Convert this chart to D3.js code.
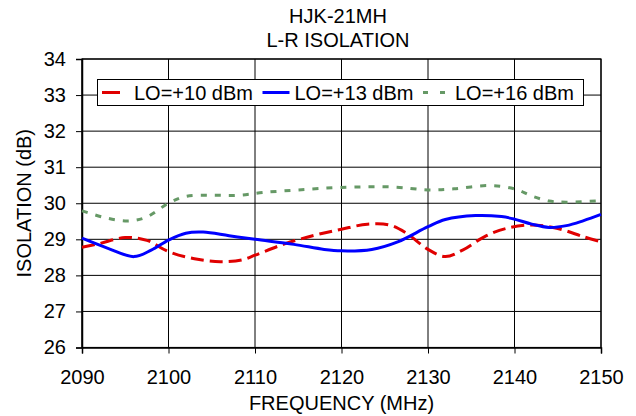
<!DOCTYPE html>
<html>
<head>
<meta charset="utf-8">
<script src="https://cdn.jsdelivr.net/npm/d3@7"></script>
<style>
  body { margin: 0; background: #fff; }
  text { font-family: "Liberation Sans", Arial, sans-serif; fill: #000; }
</style>
</head>
<body>
<script>
// series
var freq10 = [2090, 2092, 2095, 2097.5, 2100, 2103, 2106, 2108.5, 2110, 2113.5, 2117, 2120, 2123, 2125.5, 2127.5, 2130, 2132, 2134, 2136.5, 2139, 2142, 2145, 2148, 2150];
var iso10 = [28.78, 28.88, 29.05, 28.97, 28.66, 28.46, 28.38, 28.43, 28.56, 28.88, 29.12, 29.28, 29.42, 29.4, 29.17, 28.72, 28.52, 28.7, 29.07, 29.3, 29.4, 29.3, 29.07, 28.93];

var freq13 = [2090, 2093, 2096, 2098, 2100, 2102, 2104, 2107, 2110, 2114.5, 2118, 2120, 2123.5, 2126.5, 2130, 2132, 2135.5, 2138.5, 2140, 2142, 2144, 2146, 2148, 2150];
var iso13 = [29.03, 28.75, 28.52, 28.7, 28.98, 29.17, 29.2, 29.1, 29.0, 28.86, 28.72, 28.68, 28.72, 28.93, 29.35, 29.55, 29.66, 29.63, 29.56, 29.42, 29.33, 29.38, 29.52, 29.69];

var freq16 = [2090, 2093, 2095.5, 2097.5, 2100, 2102, 2105, 2108, 2111, 2115, 2120, 2126, 2130, 2133, 2137, 2140, 2142, 2144, 2146, 2150];
var iso16 = [29.79, 29.58, 29.51, 29.62, 30.0, 30.19, 30.22, 30.22, 30.3, 30.37, 30.44, 30.45, 30.37, 30.4, 30.49, 30.4, 30.2, 30.06, 30.03, 30.07];

var seriesNames = ['LO=+10 dBm', 'LO=+13 dBm', 'LO=+16 dBm'];
var xTicks = [2090, 2100, 2110, 2120, 2130, 2140, 2150];
var yTicks = [26, 27, 28, 29, 30, 31, 32, 33, 34];
var titleLines = ['HJK-21MH', 'L-R ISOLATION'];

var series = [
  { name: seriesNames[0], f: freq10, v: iso10, color: '#e00000', dash: '13,6', keyDash: '18,40' },
  { name: seriesNames[1], f: freq13, v: iso13, color: '#0000ff', dash: null, keyDash: null },
  { name: seriesNames[2], f: freq16, v: iso16, color: '#669966', dash: '6,8', keyDash: '5,12' }
];

var W = 636, H = 416;
var margin = { top: 59, right: 35, bottom: 68.5, left: 82 },
  width = W - margin.left - margin.right,
  height = H - margin.top - margin.bottom;

var svg = d3.select('body').append('svg')
  .attr('width', W)
  .attr('height', H);

var g = svg.append('g')
  .attr('transform', 'translate(' + margin.left + ',' + margin.top + ')');

var x = d3.scaleLinear().domain([2090, 2150]).range([0, width]);
var y = d3.scaleLinear().domain([26, 34]).range([height, 0]);

// grid
g.selectAll('line.hgrid').data(yTicks).enter().append('line')
  .attr('class', 'hgrid')
  .attr('x1', 0).attr('x2', width)
  .attr('y1', function(d) { return y(d); })
  .attr('y2', function(d) { return y(d); })
  .attr('stroke', '#000').attr('stroke-width', 1);

g.selectAll('line.vgrid').data(xTicks).enter().append('line')
  .attr('class', 'vgrid')
  .attr('y1', 0).attr('y2', height)
  .attr('x1', function(d) { return x(d); })
  .attr('x2', function(d) { return x(d); })
  .attr('stroke', '#000').attr('stroke-width', 1);

// axes
var xAxis = g.append('g')
  .attr('transform', 'translate(0,' + height + ')')
  .call(d3.axisBottom(x).tickValues(xTicks).tickFormat(d3.format('d')).tickSize(6).tickPadding(16));
var yAxis = g.append('g')
  .call(d3.axisLeft(y).tickValues(yTicks).tickFormat(d3.format('d')).tickSize(6).tickPadding(10));

[xAxis, yAxis].forEach(function(a) {
  a.select('.domain').attr('stroke', '#000').attr('stroke-width', 1.5);
  a.selectAll('.tick line').attr('stroke', '#000');
  a.selectAll('.tick text').attr('font-size', 20).attr('font-family', '"Liberation Sans", Arial, sans-serif').attr('fill', '#000');
});

// frame
g.append('rect')
  .attr('width', width).attr('height', height)
  .attr('fill', 'none').attr('stroke', '#000').attr('stroke-width', 1.2);

// lines
var line = d3.line()
  .x(function(d) { return x(d[0]); })
  .y(function(d) { return y(d[1]); })
  .curve(d3.curveCatmullRom.alpha(0.5));

series.forEach(function(s) {
  var pts = s.f.map(function(f, i) { return [f, s.v[i]]; });
  g.append('path')
    .datum(pts)
    .attr('d', line)
    .attr('fill', 'none')
    .attr('stroke', s.color)
    .attr('stroke-width', 3)
    .attr('stroke-dasharray', s.dash);
});

// legend
var legend = svg.append('g');
legend.append('rect')
  .attr('x', 97.5).attr('y', 79.5)
  .attr('width', 486).attr('height', 26)
  .attr('fill', '#fff').attr('stroke', '#000').attr('stroke-width', 1);

series.forEach(function(s, i) {
  var x0 = 102 + i * 160.5;
  legend.append('line')
    .attr('x1', x0).attr('x2', x0 + 27)
    .attr('y1', 92.5).attr('y2', 92.5)
    .attr('stroke', s.color).attr('stroke-width', 3)
    .attr('stroke-dasharray', s.keyDash);
  legend.append('text')
    .attr('x', x0 + 32).attr('y', 100)
    .attr('font-size', 20)
    .text(s.name);
});

// titles
svg.selectAll('text.title').data(titleLines).enter().append('text')
  .attr('class', 'title')
  .attr('x', 338)
  .attr('y', function(d, i) { return 23 + i * 24; })
  .attr('text-anchor', 'middle')
  .attr('font-size', 20)
  .text(function(d) { return d; });

svg.append('text')
  .attr('x', margin.left + width / 2)
  .attr('y', 410)
  .attr('text-anchor', 'middle')
  .attr('font-size', 20)
  .text('FREQUENCY (MHz)');

svg.append('text')
  .attr('transform', 'translate(31,' + (margin.top + height / 2) + ') rotate(-90)')
  .attr('text-anchor', 'middle')
  .attr('font-size', 20)
  .text('ISOLATION (dB)');
</script>
</body>
</html>
